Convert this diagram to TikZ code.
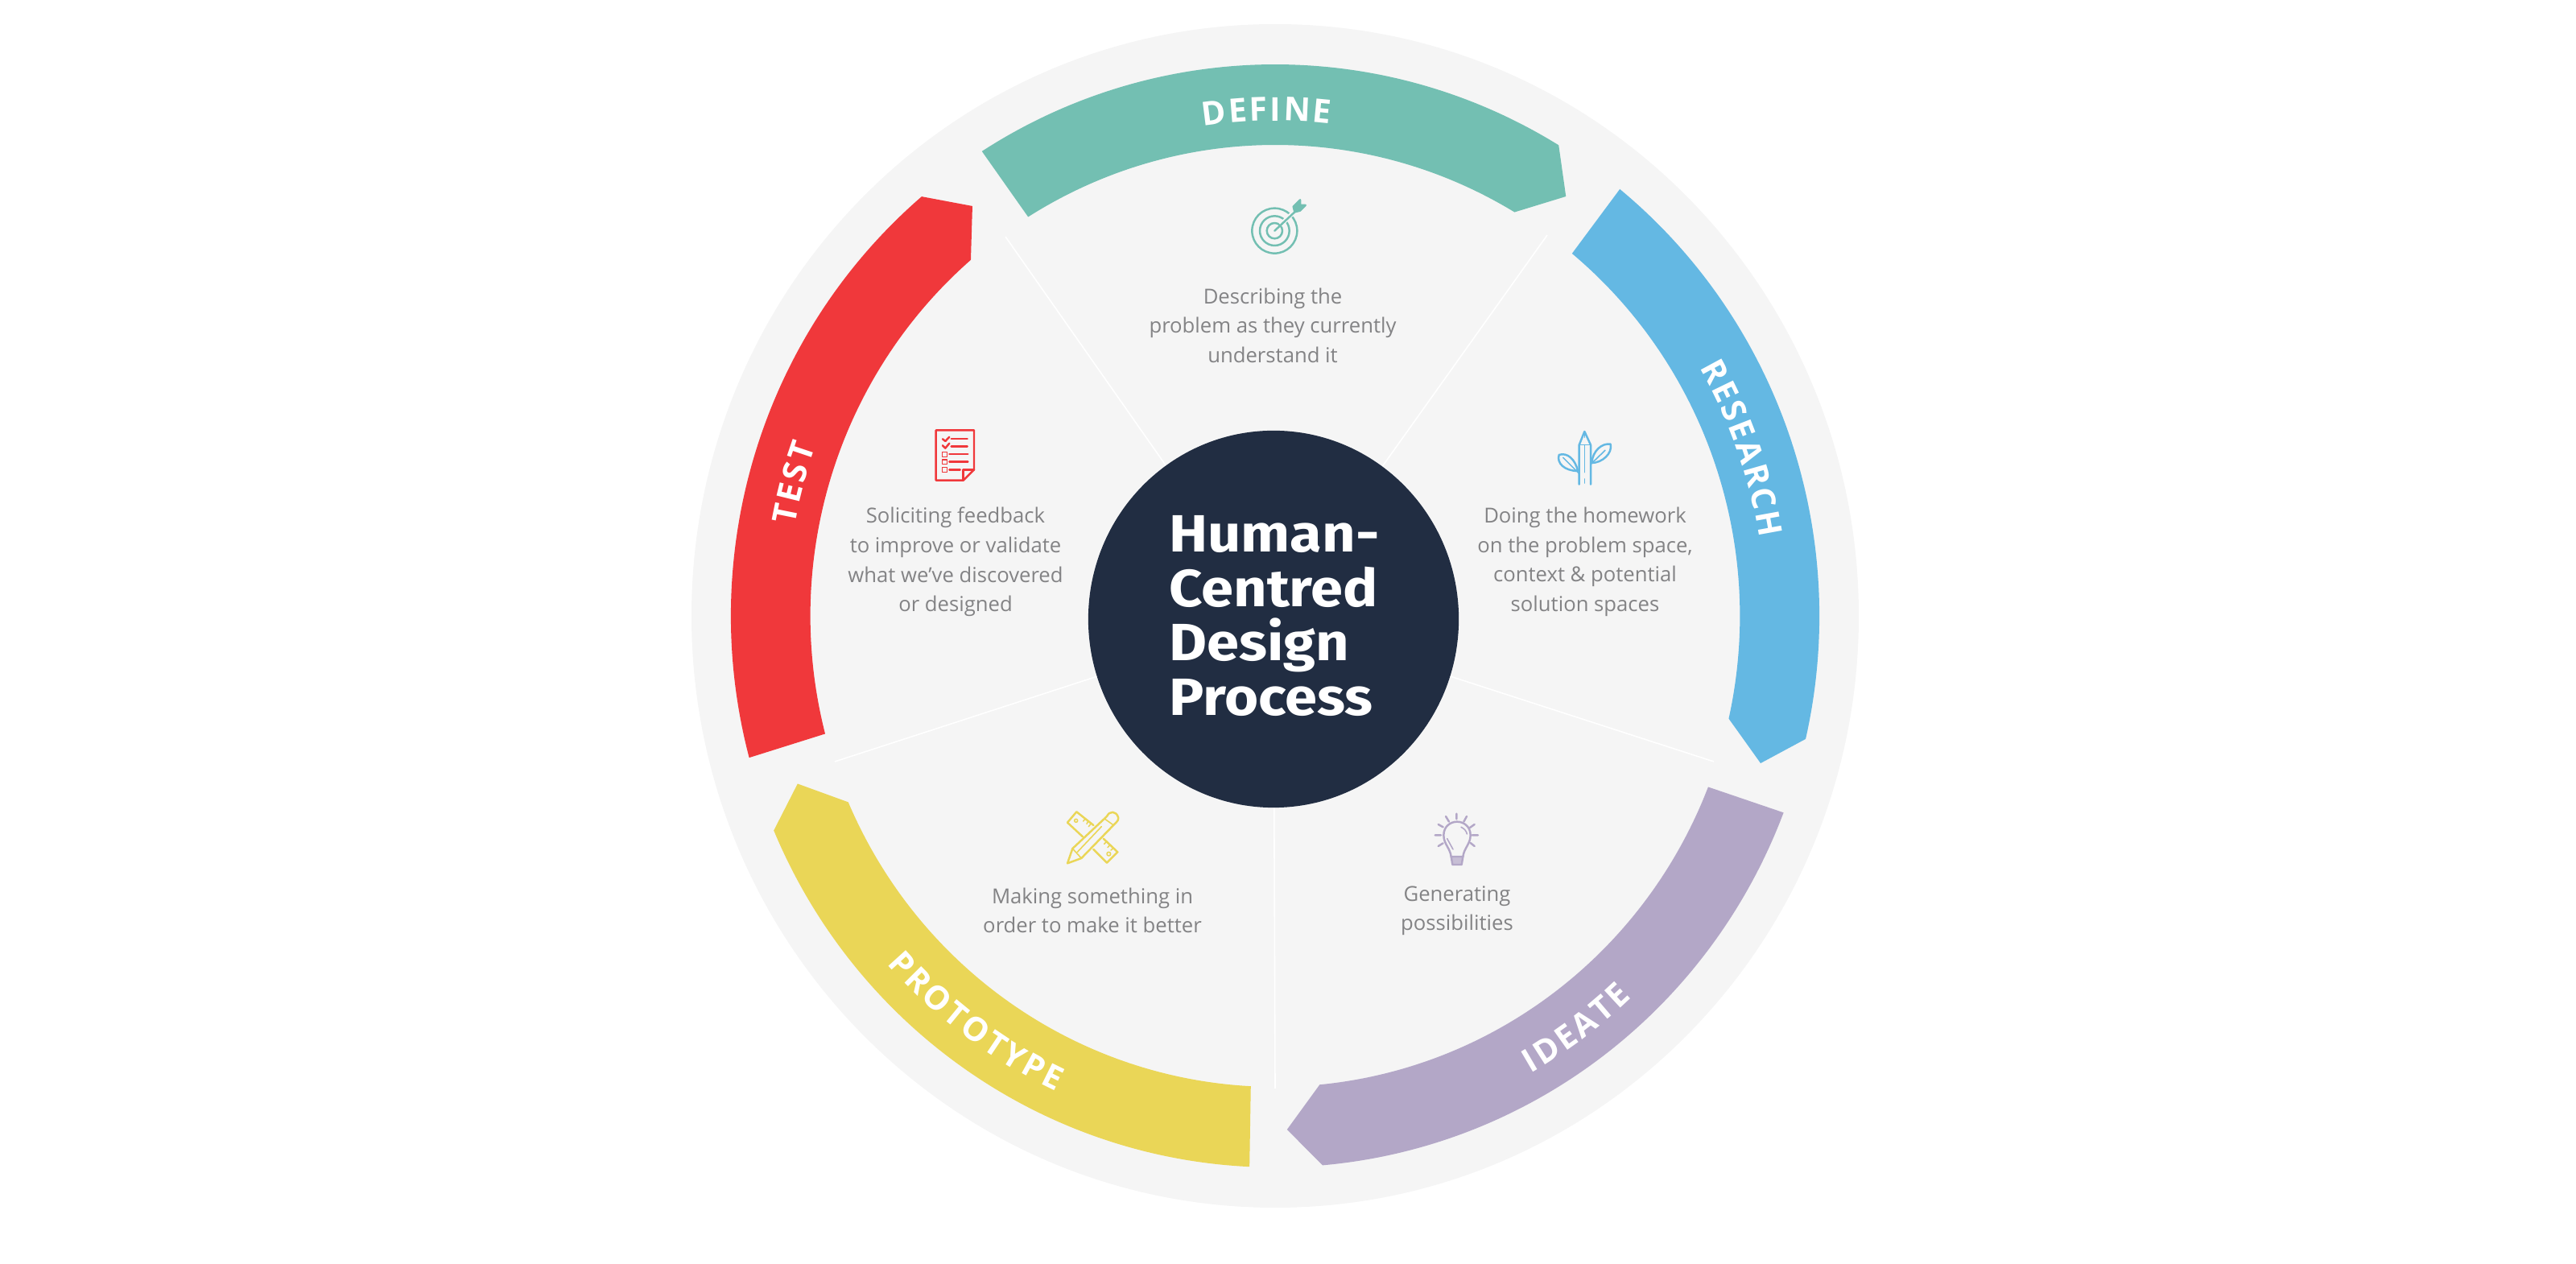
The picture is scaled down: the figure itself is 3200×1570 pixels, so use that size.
\documentclass[tikz,border=0pt]{standalone}
\usepackage{fontspec}
\usetikzlibrary{shapes.geometric,decorations.text}
\setmainfont{Open Sans}
\newfontfamily\titlefamily[FakeStretch=1.11]{Fira Sans}
\definecolor{discgrey}{HTML}{F5F5F5}
\definecolor{hubnavy}{HTML}{212D42}
\definecolor{blurbgrey}{HTML}{838385}
\definecolor{defineteal}{HTML}{73BFB2}
\definecolor{researchblue}{HTML}{64B8E3}
\definecolor{ideatelilac}{HTML}{B3A7C7}
\definecolor{protoyellow}{HTML}{EAD657}
\definecolor{testred}{HTML}{F0383B}
\newcommand{\bandfont}{\color{white}\fontsize{11.6}{11.6}\selectfont\bfseries}
\newcommand{\bandlabel}[4]{\path[decorate, decoration={text along path, text align=fit to path, text={|\bandfont|#4}}] (#1:#3) arc (#1:#2:#3);}
\tikzset{
	blurb/.style={align=center, text=blurbgrey, font=\fontsize{7.3}{10.4}\selectfont},
	divider/.style={draw=white, line width=0.45pt},
	iconline/.style={line width=0.7pt, line cap=round, line join=round},
	iconfine/.style={line width=0.45pt, line cap=round, line join=round}
}

\begin{document}
\begin{tikzpicture}[x=0.01cm, y=0.01cm]
	\useasboundingbox (0,0) rectangle (3200,1570);
	\fill[discgrey] (1584,805) ellipse (725 and 735);
	\node[ellipse, fill=hubnavy, minimum width=4.6cm, minimum height=4.68cm, inner sep=0pt] (hub) at (1582,801) {};
	\coordinate (divA) at (1249,1276);
	\coordinate (divB) at (1922,1278);
	\coordinate (divC) at (2129,624);
	\coordinate (divD) at (1037,624);
	\coordinate (divE) at (1584,218);
	\foreach \rim in {divA,divB,divC,divD,divE}
		\draw[divider] (hub) -- (\rim);
	\begin{scope}[shift={(1584,805)}, xscale=0.987]
		\fill[defineteal] (122.6:685) arc (122.6:58.6:685) -- (366,521) -- (59:585) arc (59:122.1:585) -- cycle;
		\fill[researchblue] (50.7:685) arc (50.7:-12.9:685) -- (611,-183) -- (-12.6:585) arc (-12.6:50.3:585) -- cycle;
		\fill[ideatelilac] (-20.9:685) arc (-20.9:-85:685) -- (15,-638) -- (-84.5:585) arc (-84.5:-21.3:585) -- cycle;
		\fill[protoyellow] (267.3:685) arc (267.3:202.9:685) -- (-601,-208.5) -- (203.3:585) arc (203.3:267:585) -- cycle;
		\fill[testred] (194.9:685) arc (194.9:130.5:685) -- (-381,509) -- (130.9:585) arc (130.9:194.5:585) -- cycle;
		\bandlabel{98.5}{83.5}{615}{DEFINE}
		\bandlabel{30}{9}{617}{RESEARCH}
		\bandlabel{-60.5}{-46.5}{653}{IDEATE}
		\bandlabel{221.5}{245}{652}{PROTOTYPE}
		\bandlabel{169.5}{160}{615}{TEST}
	\end{scope}
	\node[align=left, text=white, font=\titlefamily\bfseries\fontsize{18.5}{19.3}\selectfont] (title) at (1583,805) {Human-\\Centred\\Design\\Process};
	\node[blurb] (defineText) at (1581,1166) {Describing the\\problem as they currently\\understand it};
	\node[blurb] (researchText) at (1969,872) {Doing the homework\\on the problem space,\\context \& potential\\solution spaces};
	\node[blurb] (testText) at (1187,872) {Soliciting feedback\\to improve or validate\\what we’ve discovered\\or designed};
	\node[blurb] (protoText) at (1357,439) {Making something in\\order to make it better};
	\node[blurb] (ideateText) at (1810,439) {Generating\\possibilities};
	\begin{scope}[shift={(1500,1340)}, scale=1/3, yscale=-1, draw=defineteal]
		\draw[iconline] (250,170) circle (84);
		\draw[iconline] (250,170) circle (55);
		\draw[iconline] (250,170) circle (29);
		\draw[discgrey, line width=1.6pt] (272,148) -- (325,98);
		\draw[iconline] (250,170) -- (325,100);
		\draw[iconline, fill=defineteal] (325,100) -- (320,80) -- (345,55) -- (345,75) -- (365,75) -- (345,95) -- cycle;
	\end{scope}
	\begin{scope}[shift={(1900,1050)}, scale=1/3, yscale=-1, draw=researchblue]
		\draw[iconline] (185,245) -- (185,98) -- (205,48) -- (228,98) -- (228,245);
		\draw[iconfine] (185,98) -- (228,98) (205,70) -- (205,50) (205,98) -- (205,200) (205,225) -- (205,240);
		\draw[iconline] (180,195) .. controls (170,150) and (140,125) .. (110,135) .. controls (100,165) and (130,195) .. (180,195);
		\draw[iconfine] (125,145) -- (185,205);
		\draw[iconline] (232,165) .. controls (235,120) and (270,90) .. (302,95) .. controls (310,130) and (270,165) .. (232,165);
		\draw[iconfine] (228,170) -- (282,118);
	\end{scope}
	\begin{scope}[shift={(1130,1050)}, scale=1/3, yscale=-1, draw=testred]
		\draw[iconline] (98,43) -- (240,43) -- (240,190) -- (200,230) -- (98,230) -- cycle;
		\draw[iconline] (200,230) -- (200,190) -- (240,190);
		\draw[iconline] (123,76) -- (133,84) -- (148,68) (123,100) -- (133,110) -- (148,92);
		\draw[iconline] (155,75) -- (215,75) (155,104) -- (215,104) (148,132) -- (217,132) (148,161) -- (217,161) (148,190) -- (188,190);
		\draw[iconfine] (122,124) rectangle (140,142) (122,153) rectangle (140,170) (122,182) rectangle (140,199);
	\end{scope}
	\begin{scope}[shift={(1300,580)}, scale=1/3, yscale=-1, draw=protoyellow]
		\draw[iconline] (175,105) -- (112,55) -- (78,95) -- (135,148);
		\draw[iconline] (212,155) -- (265,205) -- (225,245) -- (175,195);
		\draw[iconfine] (145,80) -- (137,90) (155,90) -- (150,100) (165,100) -- (157,110) (225,165) -- (215,175) (237,178) -- (228,188) (250,190) -- (240,198);
		\draw[iconfine] (110,88) circle (6) (232,212) circle (7);
		\draw[iconline] (78,247) -- (97,192) -- (225,72) .. controls (235,50) and (260,52) .. (267,75) .. controls (268,85) and (265,90) .. (262,92) -- (130,228) -- cycle;
		\draw[iconfine] (215,80) -- (250,105) (115,205) -- (205,110) (97,192) -- (130,228);
	\end{scope}
	\begin{scope}[shift={(1760,570)}, scale=1/3, yscale=-1, draw=ideatelilac]
		\draw[iconline] (128,192) .. controls (124,160) and (100,145) .. (100,112) .. controls (100,80) and (125,62) .. (150,62) .. controls (175,62) and (200,80) .. (200,112) .. controls (200,145) and (176,160) .. (172,192);
		\draw[iconline, fill=ideatelilac!70!discgrey] (128,192) -- (172,192) -- (167,222) -- (133,222) -- cycle;
		\draw[iconline] (148,32) -- (148,52) (108,42) -- (120,62) (186,42) -- (175,62) (80,72) -- (98,82) (215,72) -- (198,84) (68,112) -- (90,112) (206,112) -- (228,112) (80,153) -- (98,142) (215,153) -- (200,141);
		\draw[iconfine] (165,82) .. controls (178,88) and (185,98) .. (187,108) (113,125) -- (135,165);
	\end{scope}
\end{tikzpicture}
\end{document}
